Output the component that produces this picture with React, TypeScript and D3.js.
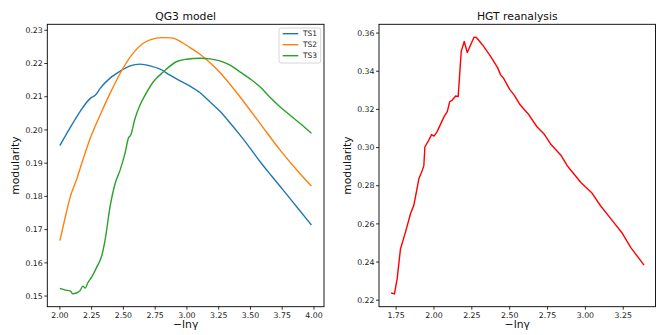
import * as d3 from 'd3';

// QG3 model – three time slices
const ts1X = [2.0, 2.08, 2.16, 2.239, 2.28, 2.317, 2.395, 2.474, 2.553, 2.631, 2.71, 2.789, 2.867, 2.946, 3.024, 3.103, 3.18, 3.26, 3.34, 3.417, 3.5, 3.575, 3.665, 3.758, 3.87, 3.98];
const ts1Y = [0.1953, 0.2006, 0.2056, 0.2095, 0.2105, 0.2125, 0.2156, 0.2177, 0.2193, 0.2198, 0.2193, 0.2183, 0.2165, 0.2148, 0.2132, 0.2112, 0.2085, 0.2056, 0.2021, 0.1985, 0.1944, 0.1905, 0.1862, 0.1819, 0.1766, 0.1714];

const ts2X = [2.0, 2.02, 2.083, 2.135, 2.16, 2.239, 2.317, 2.395, 2.474, 2.566, 2.657, 2.71, 2.8, 2.88, 2.95, 3.024, 3.103, 3.18, 3.26, 3.417, 3.575, 3.732, 3.889, 3.98];
const ts2Y = [0.1667, 0.17, 0.18, 0.1855, 0.1885, 0.1975, 0.2045, 0.211, 0.217, 0.2226, 0.2261, 0.2271, 0.2278, 0.2277, 0.2266, 0.2248, 0.2228, 0.2203, 0.2173, 0.21, 0.202, 0.194, 0.1869, 0.1831];

const ts3X = [2.0, 2.045, 2.083, 2.1, 2.135, 2.16, 2.18, 2.2, 2.22, 2.25, 2.29, 2.33, 2.356, 2.395, 2.435, 2.474, 2.513, 2.539, 2.558, 2.592, 2.631, 2.671, 2.736, 2.815, 2.92, 2.998, 3.103, 3.18, 3.26, 3.34, 3.417, 3.5, 3.575, 3.65, 3.732, 3.81, 3.889, 3.98];
const ts3Y = [0.1523, 0.1518, 0.1515, 0.1507, 0.151, 0.1517, 0.153, 0.1524, 0.154, 0.1557, 0.1587, 0.1622, 0.1669, 0.1769, 0.1839, 0.1879, 0.193, 0.1975, 0.1985, 0.2035, 0.2075, 0.2105, 0.2145, 0.2175, 0.2206, 0.2213, 0.2216, 0.2214, 0.2208, 0.2195, 0.2175, 0.2153, 0.213, 0.21, 0.207, 0.2045, 0.202, 0.199];

// HGT reanalysis
const hgtX = [1.717, 1.739, 1.757, 1.779, 1.812, 1.845, 1.867, 1.9, 1.922, 1.933, 1.94, 1.966, 1.984, 2.0, 2.02, 2.066, 2.088, 2.104, 2.121, 2.143, 2.16, 2.18, 2.2, 2.22, 2.265, 2.28, 2.32, 2.375, 2.42, 2.44, 2.46, 2.5, 2.53, 2.57, 2.62, 2.68, 2.73, 2.77, 2.84, 2.88, 2.97, 3.04, 3.1, 3.17, 3.24, 3.3, 3.387];
const hgtY = [0.2238, 0.2233, 0.2313, 0.247, 0.2557, 0.2653, 0.2697, 0.2835, 0.2878, 0.2904, 0.3003, 0.3039, 0.3068, 0.306, 0.3082, 0.3161, 0.3188, 0.324, 0.3249, 0.327, 0.3267, 0.3504, 0.3556, 0.3498, 0.3579, 0.3577, 0.3539, 0.3477, 0.3419, 0.3381, 0.3363, 0.3305, 0.3275, 0.3223, 0.3179, 0.3109, 0.3068, 0.3019, 0.2958, 0.2905, 0.2817, 0.2765, 0.2695, 0.2625, 0.2555, 0.2476, 0.2384];

const qgXTicks = [2.0, 2.25, 2.5, 2.75, 3.0, 3.25, 3.5, 3.75, 4.0];
const qgYTicks = [0.15, 0.16, 0.17, 0.18, 0.19, 0.2, 0.21, 0.22, 0.23];
const hgtXTicks = [1.75, 2.0, 2.25, 2.5, 2.75, 3.0, 3.25];
const hgtYTicks = [0.22, 0.24, 0.26, 0.28, 0.3, 0.32, 0.34, 0.36];

const seriesNames = ['TS1', 'TS2', 'TS3'];
const seriesColors = ['#1f77b4', '#ff7f0e', '#2ca02c'];

const FONT = 'DejaVu Sans, sans-serif';

type Series = { xs: number[]; ys: number[]; color: string; name?: string };

interface PanelProps {
  x0: number;
  x1: number;
  y0: number;
  y1: number;
  xDomain: [number, number];
  yDomain: [number, number];
  xTicks: number[];
  yTicks: number[];
  title: string;
  series: Series[];
  smooth?: boolean;
  legend?: boolean;
}

function Panel({ x0, x1, y0, y1, xDomain, yDomain, xTicks, yTicks, title, series, smooth, legend }: PanelProps) {
  const x = d3.scaleLinear().domain(xDomain).range([x0, x1]);
  const y = d3.scaleLinear().domain(yDomain).range([y1, y0]);
  const fmt = d3.format('.2f');

  const line = d3
    .line<[number, number]>()
    .x((d) => x(d[0]))
    .y((d) => y(d[1]))
    .curve(smooth ? d3.curveMonotoneX : d3.curveLinear);

  return (
    <g>
      {series.map((s, i) => (
        <path
          key={i}
          d={line(s.xs.map((v, j) => [v, s.ys[j]])) || ''}
          fill="none"
          stroke={s.color}
          strokeWidth={1.4}
          strokeLinejoin="round"
        />
      ))}

      <rect x={x0} y={y0} width={x1 - x0} height={y1 - y0} fill="none" stroke="#000" strokeWidth={0.9} />

      {xTicks.map((t) => (
        <g key={'x' + t}>
          <line x1={x(t)} x2={x(t)} y1={y1} y2={y1 + 3} stroke="#000" strokeWidth={0.8} />
          <text x={x(t)} y={y1 + 11} textAnchor="middle" fontSize={7.8} fontFamily={FONT} fill="#222">
            {fmt(t)}
          </text>
        </g>
      ))}

      {yTicks.map((t) => (
        <g key={'y' + t}>
          <line x1={x0 - 3} x2={x0} y1={y(t)} y2={y(t)} stroke="#000" strokeWidth={0.8} />
          <text x={x0 - 4.5} y={y(t)} dy="0.35em" textAnchor="end" fontSize={7.8} fontFamily={FONT} fill="#222">
            {fmt(t)}
          </text>
        </g>
      ))}

      <text x={(x0 + x1) / 2} y={y0 - 4.5} textAnchor="middle" fontSize={10.8} fontFamily={FONT} fill="#111">
        {title}
      </text>
      <text x={(x0 + x1) / 2} y={y1 + 21.5} textAnchor="middle" fontSize={10.8} fontFamily={FONT} fill="#111">
        −ln<tspan>γ</tspan>
      </text>
      <text
        transform={`translate(${x0 - 28},${(y0 + y1) / 2}) rotate(-90)`}
        textAnchor="middle"
        fontSize={10.8}
        fontFamily={FONT}
        fill="#111"
      >
        modularity
      </text>

      {legend && (
        <g transform={`translate(${x1 - 45},${y0 + 3.7})`}>
          <rect x={0} y={0} width={41.7} height={35} rx={2} fill="#fff" fillOpacity={0.8} stroke="#ccc" strokeWidth={0.8} />
          {series.map((s, i) => (
            <g key={'l' + i} transform={`translate(0,${5.7 + i * 11})`}>
              <line x1={3.7} x2={19.3} y1={0} y2={0} stroke={s.color} strokeWidth={1.4} />
              <text x={24} y={0} dy="0.35em" fontSize={7.5} fontFamily={FONT} fill="#222">
                {s.name}
              </text>
            </g>
          ))}
        </g>
      )}
    </g>
  );
}

export default function App() {
  const qgSeries: Series[] = [
    { xs: ts1X, ys: ts1Y, color: seriesColors[0], name: seriesNames[0] },
    { xs: ts2X, ys: ts2Y, color: seriesColors[1], name: seriesNames[1] },
    { xs: ts3X, ys: ts3Y, color: seriesColors[2], name: seriesNames[2] },
  ];
  const hgtSeries: Series[] = [{ xs: hgtX, ys: hgtY, color: '#ff0000' }];

  return (
    <svg width={667} height={335} style={{ position: 'absolute', left: 0, top: 0, background: '#fff' }}>
      <rect width={667} height={335} fill="#fff" />
      <Panel
        x0={47.3}
        x1={324}
        y0={24.3}
        y1={306.7}
        xDomain={[1.901, 4.079]}
        yDomain={[0.1468, 0.2318]}
        xTicks={qgXTicks}
        yTicks={qgYTicks}
        title="QG3 model"
        series={qgSeries}
        smooth
        legend
      />
      <Panel
        x0={379}
        x1={655.5}
        y0={24.3}
        y1={306.7}
        xDomain={[1.637, 3.463]}
        yDomain={[0.2166, 0.3646]}
        xTicks={hgtXTicks}
        yTicks={hgtYTicks}
        title="HGT reanalysis"
        series={hgtSeries}
      />
    </svg>
  );
}
